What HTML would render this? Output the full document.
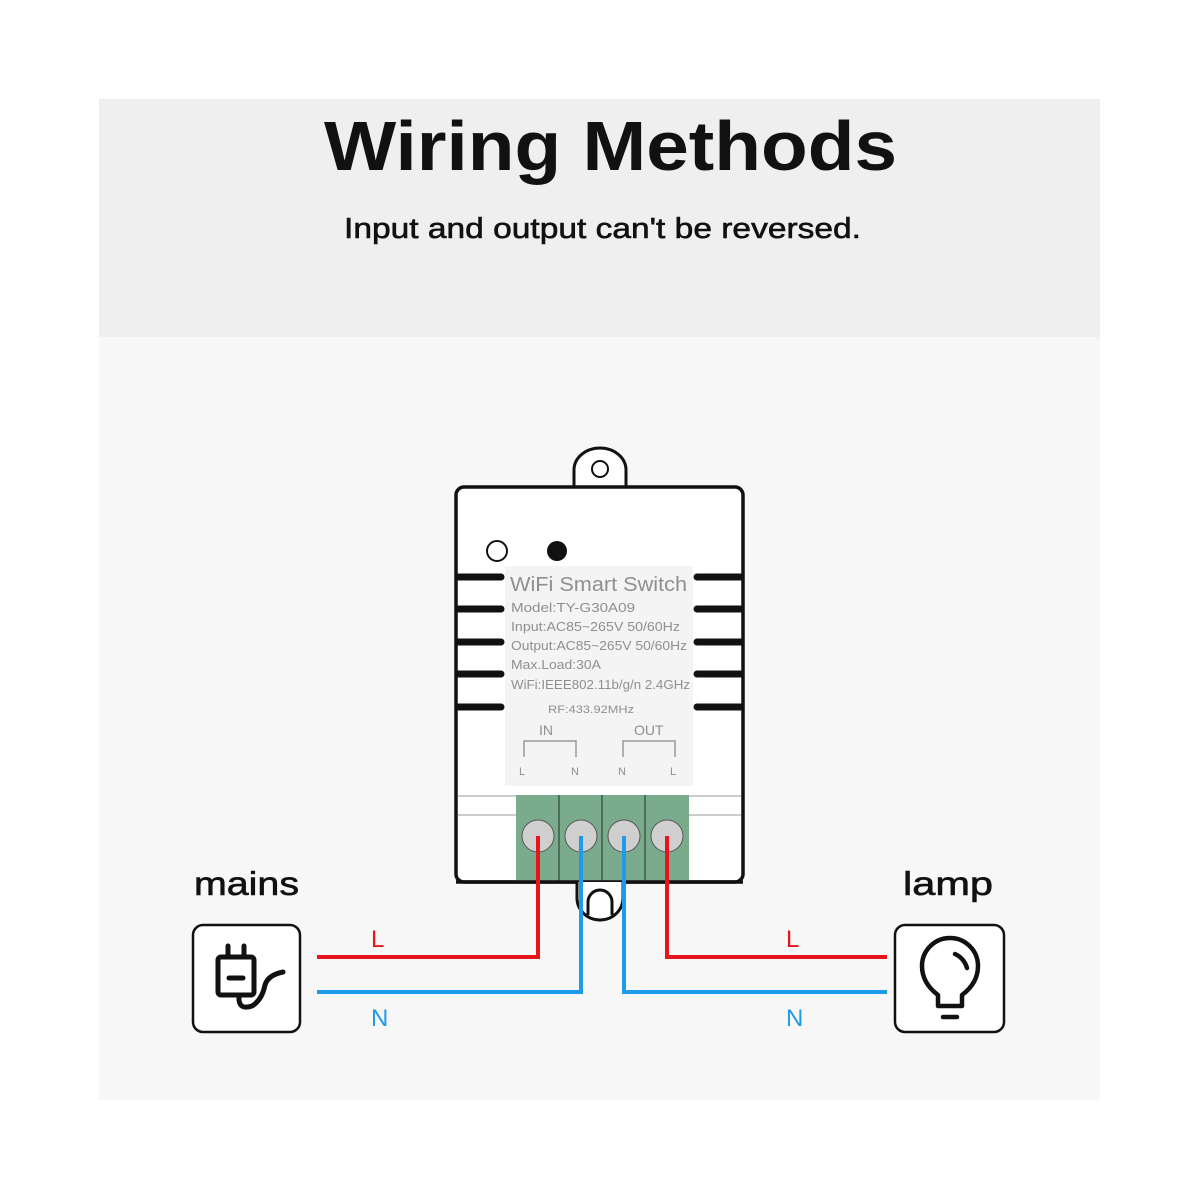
<!DOCTYPE html>
<html><head><meta charset="utf-8"><style>
html,body{margin:0;padding:0;background:#fff;}
body{width:1200px;height:1200px;position:relative;overflow:hidden;font-family:"Liberation Sans",sans-serif;}
</style></head><body>
<svg width="1200" height="1200" viewBox="0 0 1200 1200" style="position:absolute;left:0;top:0">
<rect x="99" y="99" width="1001" height="238" fill="#efefef"/>
<rect x="99" y="337" width="1001" height="763" fill="#f7f7f7"/>
<text x="324" y="170" font-size="70" font-weight="bold" fill="#111" textLength="573" lengthAdjust="spacingAndGlyphs">Wiring Methods</text>
<text x="344" y="238" font-size="29" fill="#111" stroke="#111" stroke-width="0.6" textLength="517" lengthAdjust="spacingAndGlyphs">Input and output can't be reversed.</text>

<path d="M574 487 V470 A26 22 0 0 1 626 470 V487" fill="#fff" stroke="#111" stroke-width="3"/>
<circle cx="600" cy="469" r="8" fill="none" stroke="#111" stroke-width="2"/>
<rect x="456" y="487" width="287" height="395" rx="8" fill="#fff" stroke="#111" stroke-width="3.5"/>
<rect x="505" y="566" width="188" height="220" fill="#f4f4f4"/>
<circle cx="497" cy="551" r="10" fill="#fff" stroke="#111" stroke-width="2"/>
<circle cx="557" cy="551" r="10" fill="#111"/>
<g stroke="#111" stroke-width="7" stroke-linecap="round">
<line x1="458" y1="577" x2="501" y2="577"/><line x1="458" y1="609" x2="501" y2="609"/><line x1="458" y1="642" x2="501" y2="642"/><line x1="458" y1="674" x2="501" y2="674"/><line x1="458" y1="707" x2="501" y2="707"/>
<line x1="697" y1="577" x2="741" y2="577"/><line x1="697" y1="609" x2="741" y2="609"/><line x1="697" y1="642" x2="741" y2="642"/><line x1="697" y1="674" x2="741" y2="674"/><line x1="697" y1="707" x2="741" y2="707"/>
</g>
<g fill="#8f8f8f" font-size="13">
<text x="510" y="591" font-size="20" textLength="177" lengthAdjust="spacingAndGlyphs">WiFi Smart Switch</text>
<text x="511" y="612" textLength="124" lengthAdjust="spacingAndGlyphs">Model:TY-G30A09</text>
<text x="511" y="631" textLength="169" lengthAdjust="spacingAndGlyphs">Input:AC85~265V 50/60Hz</text>
<text x="511" y="650" textLength="176" lengthAdjust="spacingAndGlyphs">Output:AC85~265V 50/60Hz</text>
<text x="511" y="669" textLength="90" lengthAdjust="spacingAndGlyphs">Max.Load:30A</text>
<text x="511" y="689" textLength="179" lengthAdjust="spacingAndGlyphs">WiFi:IEEE802.11b/g/n 2.4GHz</text>
<text x="548" y="713" font-size="11" textLength="86" lengthAdjust="spacingAndGlyphs">RF:433.92MHz</text>
<text x="539" y="735" font-size="14">IN</text>
<text x="634" y="735" font-size="14">OUT</text>
<text x="519" y="775" font-size="11">L</text><text x="571" y="775" font-size="11">N</text>
<text x="618" y="775" font-size="11">N</text><text x="670" y="775" font-size="11">L</text>
</g>
<path d="M524 757 V741 H576 V757 M623 757 V741 H675 V757" fill="none" stroke="#999" stroke-width="1.5"/>
<line x1="458" y1="796" x2="741" y2="796" stroke="#bbb" stroke-width="1.5"/>
<line x1="458" y1="815" x2="741" y2="815" stroke="#bbb" stroke-width="1.5"/>
<rect x="516" y="795" width="173" height="87" fill="#7aab8c"/>
<g stroke="#3d5a48" stroke-width="1.5"><line x1="559" y1="795" x2="559" y2="882"/><line x1="602" y1="795" x2="602" y2="882"/><line x1="645" y1="795" x2="645" y2="882"/></g>
<g fill="#cfcfcf" stroke="#555" stroke-width="1"><circle cx="538" cy="836" r="16"/><circle cx="581" cy="836" r="16"/><circle cx="624" cy="836" r="16"/><circle cx="667" cy="836" r="16"/></g>
<line x1="456" y1="882" x2="743" y2="882" stroke="#111" stroke-width="3.5"/>
<path d="M577 882 V898 A23 22 0 0 0 623 898 V882" fill="#fff" stroke="#111" stroke-width="3"/>
<path d="M588 915 V902 A12 12 0 0 1 612 902 V915" fill="none" stroke="#111" stroke-width="3"/>
<g fill="none" stroke-width="4">
<path d="M538 836 V957 H317" stroke="#e8141c"/>
<path d="M581 836 V992 H317" stroke="#1e9be9"/>
<path d="M624 836 V992 H887" stroke="#1e9be9"/>
<path d="M667 836 V957 H887" stroke="#e8141c"/>
</g>
<text x="371" y="947" font-size="24" fill="#e8141c">L</text>
<text x="786" y="947" font-size="24" fill="#e8141c">L</text>
<text x="371" y="1026" font-size="24" fill="#1e9be9">N</text>
<text x="786" y="1026" font-size="24" fill="#1e9be9">N</text>
<text x="194" y="895" font-size="33" fill="#111" stroke="#111" stroke-width="0.6" textLength="105" lengthAdjust="spacingAndGlyphs">mains</text>
<text x="903" y="895" font-size="33" fill="#111" stroke="#111" stroke-width="0.6" textLength="90" lengthAdjust="spacingAndGlyphs">lamp</text>
<rect x="193" y="925" width="107" height="107" rx="10" fill="#fff" stroke="#111" stroke-width="2.5"/>
<g fill="none" stroke="#111" stroke-width="5" stroke-linecap="round" stroke-linejoin="round">
<line x1="228" y1="946" x2="228" y2="956"/><line x1="244" y1="946" x2="244" y2="956"/>
<rect x="218" y="957" width="36" height="38" rx="3"/>
<line x1="229" y1="978" x2="243" y2="978"/>
<path d="M239 995 V1000 Q240 1010 252 1006 Q262 1000 265 985 Q268 975 283 972"/>
</g>
<rect x="895" y="925" width="109" height="107" rx="10" fill="#fff" stroke="#111" stroke-width="2.5"/>
<g fill="none" stroke="#111" stroke-width="4.5" stroke-linecap="round" stroke-linejoin="round">
<path d="M938 1006 V995 Q922 983 922 966 A28 28 0 0 1 978 966 Q978 983 962 995 V1006 Z"/>
<line x1="943" y1="1017" x2="957" y2="1017"/>
<path d="M955 954 Q964 958 967 968"/>
</g>
</svg>
</body></html>
